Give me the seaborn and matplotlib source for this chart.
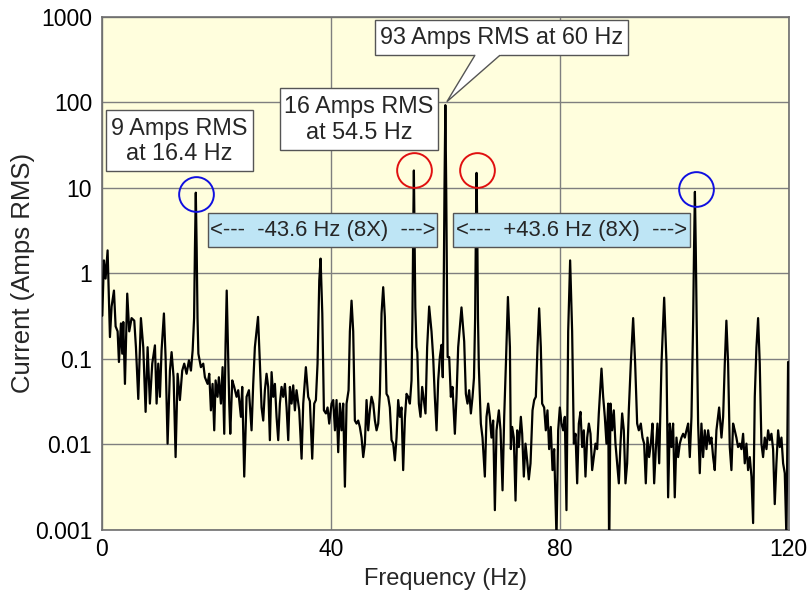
import matplotlib
matplotlib.use("Agg")
import matplotlib.pyplot as plt
from matplotlib.patches import Rectangle, Polygon
import seaborn as sns
import pandas as pd

# ---------------- data ----------------
freq_hz = [
    0.06, 0.35, 0.64, 0.99, 1.40, 1.69, 2.10, 2.39, 2.74, 2.97, 3.32, 3.55, 3.73, 4.02, 4.42, 4.77,
    5.18, 5.65, 5.94, 6.35, 6.81, 7.22, 7.63, 7.98, 8.38, 8.79, 9.26, 9.55, 9.84, 10.13, 10.42, 10.83,
    11.12, 11.47, 11.88, 12.17, 12.52, 12.87, 13.22, 13.62, 14.03, 14.38, 14.79, 15.20, 15.55, 15.85,
    16.10, 16.25, 16.40, 16.55, 16.70, 16.85, 17.29, 17.70, 17.99, 18.46, 18.75, 19.04, 19.33, 19.62,
    19.86, 20.20, 20.43, 20.79, 21.08, 21.37, 21.60, 21.80, 22.00, 22.24, 22.42, 22.77, 23.11, 23.52,
    23.81, 24.28, 24.51, 24.86, 25.27, 25.68, 26.14, 26.43, 26.72, 27.27, 27.60, 27.89, 28.18, 28.47,
    28.76, 29.05, 29.34, 29.64, 29.93, 30.22, 30.51, 30.80, 31.09, 31.38, 31.67, 31.97, 32.26, 32.55,
    32.84, 33.13, 33.42, 33.71, 34.00, 34.47, 34.88, 35.17, 35.63, 36.04, 36.33, 36.74, 37.09, 37.38,
    37.67, 37.97, 38.20, 38.50, 38.78, 39.13, 39.42, 39.71, 40.12, 40.41, 40.71, 40.99, 41.28, 41.57,
    41.86, 42.15, 42.45, 42.74, 43.09, 43.32, 43.61, 43.90, 44.19, 44.48, 44.77, 45.06, 45.36, 45.65,
    45.94, 46.23, 46.52, 46.81, 47.10, 47.40, 47.69, 47.98, 48.27, 48.56, 48.85, 49.14, 49.43, 49.72,
    50.01, 50.30, 50.60, 50.89, 51.18, 51.47, 51.76, 52.05, 52.34, 52.63, 52.93, 53.22, 53.51, 53.80,
    54.09, 54.25, 54.38, 54.50, 54.62, 54.75, 54.95, 55.10, 55.37, 55.66, 55.95, 56.24, 56.53, 56.82,
    57.17, 57.58, 57.87, 58.16, 58.46, 58.75, 59.04, 59.33, 59.55, 59.70, 59.85, 60.00, 60.15, 60.30,
    60.40, 60.67, 60.96, 61.25, 61.66, 61.95, 62.24, 62.82, 63.29, 63.58, 63.87, 64.16, 64.46, 64.75,
    65.00, 65.20, 65.33, 65.45, 65.58, 65.70, 65.85, 66.20, 66.49, 66.90, 67.19, 67.48, 67.77, 68.06,
    68.35, 68.65, 68.94, 69.35, 69.64, 69.99, 70.28, 70.58, 70.93, 71.28, 71.44, 71.67, 71.96, 72.26,
    72.55, 72.84, 73.19, 73.42, 73.71, 74.00, 74.29, 74.58, 74.88, 75.23, 75.52, 75.81, 76.10, 76.39,
    76.68, 76.91, 77.26, 77.55, 77.84, 78.13, 78.42, 78.72, 79.01, 79.42, 79.71, 80.00, 80.29, 80.58,
    80.87, 81.16, 81.46, 81.80, 82.15, 82.45, 82.74, 83.03, 83.32, 83.61, 83.90, 84.19, 84.48, 84.78,
    85.07, 85.36, 85.65, 85.94, 86.23, 86.52, 86.81, 87.28, 87.57, 87.86, 88.15, 88.45, 88.62, 88.85,
    89.14, 89.43, 89.72, 90.01, 90.31, 90.60, 90.89, 91.18, 91.47, 91.76, 92.05, 92.40, 92.81, 93.16,
    93.51, 93.80, 94.15, 94.44, 94.73, 95.02, 95.31, 95.60, 95.90, 96.19, 96.48, 96.77, 97.06, 97.36,
    97.76, 98.23, 98.64, 98.92, 99.21, 99.50, 99.79, 100.08, 100.38, 100.67, 100.96, 101.25, 101.54,
    101.84, 102.13, 102.42, 102.71, 103.00, 103.30, 103.45, 103.60, 103.75, 103.90, 104.16, 104.45,
    104.74, 105.03, 105.32, 105.62, 105.91, 106.20, 106.49, 106.78, 107.07, 107.36, 107.83, 108.24,
    108.53, 108.82, 109.10, 109.40, 109.69, 109.98, 110.27, 110.56, 110.85, 111.14, 111.44, 111.73,
    112.02, 112.31, 112.60, 112.89, 113.19, 113.48, 113.77, 114.06, 114.35, 114.64, 114.93, 115.22,
    115.51, 115.80, 116.10, 116.39, 116.68, 116.97, 117.26, 117.55, 117.84, 118.14, 118.43, 118.72,
    119.01, 119.30, 119.59, 119.88,
]
current_a = [
    0.32, 1.42, 0.87, 1.86, 0.18, 0.41, 0.63, 0.24, 0.21, 0.092, 0.26, 0.115, 0.27, 0.051, 0.58, 0.21,
    0.30, 0.28, 0.137, 0.034, 0.30, 0.137, 0.024, 0.137, 0.030, 0.088, 0.144, 0.030, 0.088, 0.036, 0.126, 0.34,
    0.105, 0.0102, 0.073, 0.12, 0.061, 0.0071, 0.067, 0.033, 0.073, 0.088, 0.067, 0.096, 0.073, 0.126,
    0.3, 2.0, 8.8, 2.0, 0.3, 0.115, 0.080, 0.088, 0.061, 0.051, 0.067, 0.025, 0.051, 0.0146,
    0.056, 0.036, 0.061, 0.030, 0.080, 0.0133, 0.15, 0.63, 0.15, 0.030, 0.0133, 0.056, 0.047, 0.036,
    0.043, 0.021, 0.047, 0.0042, 0.036, 0.043, 0.0146, 0.051, 0.137, 0.31, 0.088, 0.027, 0.019, 0.043,
    0.067, 0.047, 0.0112, 0.070, 0.036, 0.051, 0.021, 0.0112, 0.030, 0.047, 0.036, 0.051, 0.027, 0.0112,
    0.047, 0.030, 0.049, 0.025, 0.043, 0.025, 0.0068, 0.030, 0.080, 0.036, 0.032, 0.0068, 0.030, 0.033,
    0.088, 0.83, 1.49, 0.34, 0.025, 0.023, 0.027, 0.0175, 0.030, 0.033, 0.0146, 0.033, 0.0081, 0.030,
    0.0146, 0.030, 0.0032, 0.030, 0.043, 0.21, 0.48, 0.21, 0.019, 0.0175, 0.019, 0.016, 0.012, 0.0071,
    0.0102, 0.033, 0.0146, 0.025, 0.036, 0.030, 0.019, 0.0146, 0.0175, 0.039, 0.34, 0.69, 0.31, 0.039,
    0.036, 0.027, 0.0112, 0.0102, 0.0065, 0.012, 0.033, 0.021, 0.027, 0.005, 0.020, 0.039, 0.036, 0.030,
    0.056, 0.3, 3.0, 16.0, 3.0, 0.4, 0.137, 0.12, 0.030, 0.021, 0.047, 0.033, 0.023, 0.137,
    0.41, 0.21, 0.105, 0.036, 0.0146, 0.056, 0.105, 0.146, 0.061, 0.5, 10.0, 93.0, 10.0, 0.5,
    0.105, 0.105, 0.036, 0.047, 0.0133, 0.036, 0.137, 0.40, 0.16, 0.039, 0.030, 0.043, 0.023, 0.036,
    0.06, 0.3, 3.0, 15.0, 3.0, 0.3, 0.08, 0.0175, 0.012, 0.0042, 0.021, 0.030, 0.021, 0.012,
    0.019, 0.0017, 0.0146, 0.025, 0.0146, 0.0029, 0.021, 0.088, 0.53, 0.137, 0.0088, 0.016, 0.012, 0.0022,
    0.0146, 0.0093, 0.021, 0.0133, 0.0042, 0.0102, 0.0065, 0.0039, 0.006, 0.025, 0.033, 0.036, 0.137, 0.39,
    0.137, 0.030, 0.027, 0.0146, 0.025, 0.0088, 0.016, 0.005, 0.0088, 0.0008, 0.0146, 0.027, 0.0175, 0.0146,
    0.021, 0.0017, 0.21, 1.42, 0.21, 0.0102, 0.0133, 0.0035, 0.0175, 0.024, 0.0093, 0.0146, 0.0042, 0.012,
    0.0175, 0.0133, 0.005, 0.0071, 0.0102, 0.0088, 0.023, 0.077, 0.036, 0.021, 0.0102, 0.030, 0.0005, 0.030,
    0.0146, 0.025, 0.0102, 0.006, 0.0035, 0.0102, 0.023, 0.0146, 0.0035, 0.006, 0.025, 0.088, 0.30, 0.088,
    0.0175, 0.0146, 0.0175, 0.012, 0.0102, 0.0035, 0.012, 0.0071, 0.0102, 0.0175, 0.0035, 0.0088, 0.0175, 0.006,
    0.088, 0.52, 0.088, 0.0024, 0.0175, 0.0093, 0.0175, 0.0024, 0.012, 0.0071, 0.0102, 0.012, 0.0133,
    0.012, 0.0146, 0.0175, 0.0071, 0.021, 0.3, 2.0, 9.0, 2.0, 0.3, 0.0175, 0.0046,
    0.0175, 0.0071, 0.0146, 0.0088, 0.0146, 0.0102, 0.012, 0.0071, 0.005, 0.0146, 0.027, 0.012,
    0.021, 0.088, 0.28, 0.088, 0.0093, 0.005, 0.0175, 0.0146, 0.012, 0.0093, 0.0102, 0.0088,
    0.0133, 0.006, 0.0102, 0.005, 0.0071, 0.0042, 0.0012, 0.036, 0.137, 0.30, 0.088, 0.0102,
    0.0071, 0.012, 0.0088, 0.0146, 0.0112, 0.0133, 0.0088, 0.002, 0.006, 0.0146, 0.0093, 0.012,
    0.006, 0.0046, 0.0008, 0.092,
]

x_ticks = [0, 40, 80, 120]
y_ticks = [0.001, 0.01, 0.1, 1, 10, 100, 1000]
y_tick_labels = ["0.001", "0.01", "0.1", "1", "10", "100", "1000"]

# ---------------- style ----------------
BG = "#FFFEDD"
GRID = "#7F7F7F"
FRAME = "#6E6E6E"
BLUEBOX = "#BEE5F5"

sns.set_style("white", {"axes.facecolor": BG})
plt.rcParams["font.family"] = ["Liberation Sans", "DejaVu Sans"]

fig = plt.figure(figsize=(8.09, 5.96), dpi=100)
ax = fig.add_axes([0.126, 0.111, 0.849, 0.8605])
ax.set_facecolor(BG)

df = pd.DataFrame({"Frequency": freq_hz, "Current": current_a})
sns.lineplot(data=df, x="Frequency", y="Current", ax=ax, color="black",
             linewidth=1.6, estimator=None, sort=False, zorder=3)

ax.set_yscale("log")
ax.set_xlim(0, 120)
ax.set_ylim(0.001, 1000)
ax.set_xticks(x_ticks)
ax.set_xticklabels([str(t) for t in x_ticks])
ax.set_yticks(y_ticks)
ax.set_yticklabels(y_tick_labels)
ax.minorticks_off()
ax.tick_params(axis="both", length=0, labelsize=16.5, colors="black")
ax.tick_params(axis="y", pad=7)
ax.tick_params(axis="x", pad=6)
ax.set_xlabel("Frequency (Hz)", fontsize=17, labelpad=5)
ax.set_ylabel("Current (Amps RMS)", fontsize=18.5)
ax.yaxis.set_label_coords(-0.098, 0.5)

ax.grid(True, which="major", color=GRID, linewidth=1.0, zorder=1)
ax.set_axisbelow(True)
for s in ax.spines.values():
    s.set_color(FRAME)
    s.set_linewidth(1.2)
    s.set_visible(True)

# ---------------- annotation boxes ----------------
def box(x0, x1, ylo, yhi, fc, z=5):
    ax.add_patch(Rectangle((x0, ylo), x1 - x0, yhi - ylo, facecolor=fc,
                           edgecolor="#555555", linewidth=1.0, zorder=z, clip_on=False))

# 9 Amps box
box(0.7, 26.4, 15.6, 80.6, "white")
ax.text(13.55, 35.4, "9 Amps RMS\nat 16.4 Hz", ha="center", va="center",
        fontsize=16.8, zorder=6, linespacing=1.12)
# 16 Amps box
box(31.1, 58.7, 27.5, 146, "white")
ax.text(44.9, 63.2, "16 Amps RMS\nat 54.5 Hz", ha="center", va="center",
        fontsize=16.8, zorder=6, linespacing=1.12)
# 93 Amps callout
box(47.7, 91.9, 355, 910, "white", z=5)
ax.add_patch(Polygon([(65.3, 372), (60.26, 102), (69.8, 372)], closed=True,
                     facecolor="white", edgecolor="none", zorder=5.5, clip_on=False))
ax.plot([65.15, 60.26, 69.5], [355, 102, 355], color="#555555", linewidth=1.0,
        zorder=5.6, solid_joinstyle="miter")
ax.text(69.8, 568, "93 Amps RMS at 60 Hz", ha="center", va="center",
        fontsize=16.8, zorder=6)

# blue range boxes
box(18.5, 58.5, 2.01, 5.03, BLUEBOX)
ax.text(38.5, 3.18, "<---  -43.6 Hz (8X)  --->", ha="center", va="center",
        fontsize=15.8, zorder=6)
box(61.3, 102.7, 2.01, 5.03, BLUEBOX)
ax.text(82.0, 3.18, "<---  +43.6 Hz (8X)  --->", ha="center", va="center",
        fontsize=15.8, zorder=6)

# circles around peaks
ax.plot([16.4, 103.75], [8.6, 9.8], linestyle="none", marker="o", markersize=25,
        markerfacecolor="none", markeredgecolor="#1010E0", markeredgewidth=1.4, zorder=7)
ax.plot([54.5, 65.5], [16, 16], linestyle="none", marker="o", markersize=25,
        markerfacecolor="none", markeredgecolor="#E01010", markeredgewidth=1.4, zorder=7)

fig.savefig("out.png", dpi=100, facecolor="white")
